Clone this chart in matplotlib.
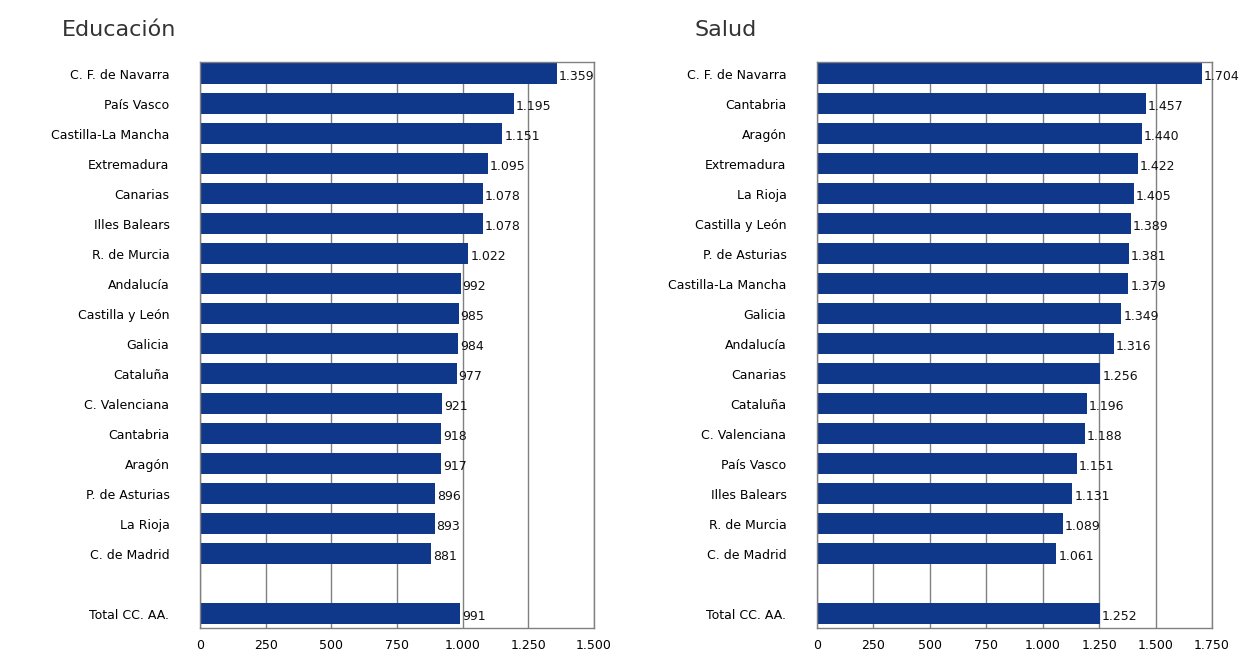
"""
Gasto por habitante: Educación y Salud por comunidad autónoma.
"""

import matplotlib
matplotlib.use("Agg")
import matplotlib.pyplot as plt
from matplotlib.ticker import FuncFormatter

# Educación
edu_regions = ["C. F. de Navarra", "País Vasco", "Castilla-La Mancha", "Extremadura",
               "Canarias", "Illes Balears", "R. de Murcia", "Andalucía",
               "Castilla y León", "Galicia", "Cataluña", "C. Valenciana",
               "Cantabria", "Aragón", "P. de Asturias", "La Rioja", "C. de Madrid",
               "Total CC. AA."]
edu_values = [1359, 1195, 1151, 1095, 1078, 1078, 1022, 992, 985, 984, 977,
              921, 918, 917, 896, 893, 881, 991]
edu_ticks = [0, 250, 500, 750, 1000, 1250, 1500]

# Salud
sal_regions = ["C. F. de Navarra", "Cantabria", "Aragón", "Extremadura", "La Rioja",
               "Castilla y León", "P. de Asturias", "Castilla-La Mancha", "Galicia",
               "Andalucía", "Canarias", "Cataluña", "C. Valenciana", "País Vasco",
               "Illes Balears", "R. de Murcia", "C. de Madrid", "Total CC. AA."]
sal_values = [1704, 1457, 1440, 1422, 1405, 1389, 1381, 1379, 1349, 1316, 1256,
              1196, 1188, 1151, 1131, 1089, 1061, 1252]
sal_ticks = [0, 250, 500, 750, 1000, 1250, 1500, 1750]

BAR = "#10388a"
GRID = "#808080"


def miles(v):
    return f"{int(v):,}".replace(",", ".")


def panel(ax, regions, values, ticks, title, title_x):
    # leave a blank row before the total
    pos = list(range(len(regions) - 1)) + [len(regions)]
    ax.barh(pos, values, height=0.7, color=BAR, zorder=2)
    for p, v in zip(pos, values):
        ax.text(v + ticks[-1] * 0.005, p + 0.08, miles(v), ha="left", va="center",
                fontsize=9, color="#111111", zorder=3)
    ax.set_yticks(pos)
    ax.set_yticklabels(regions, fontsize=9)
    ax.set_ylim(len(regions) + 0.47, -0.4)
    ax.set_xlim(0, ticks[-1])
    ax.set_xticks(ticks)
    ax.xaxis.set_major_formatter(FuncFormatter(lambda v, _: miles(v)))
    ax.tick_params(axis="y", length=0, pad=22)
    ax.tick_params(axis="x", length=0, pad=8, labelsize=9)
    ax.grid(axis="x", color=GRID, linewidth=1, zorder=1)
    ax.set_axisbelow(True)
    for s in ax.spines.values():
        s.set_color(GRID)
        s.set_linewidth(1)
    fig.text(title_x, 1 - 30 / 657, title, ha="left", va="center",
             fontsize=16, color="#333333")


fig = plt.figure(figsize=(12.51, 6.57), dpi=100)
ax1 = fig.add_axes([200 / 1251, 29 / 657, 394 / 1251, 566 / 657])
ax2 = fig.add_axes([817 / 1251, 29 / 657, 395 / 1251, 566 / 657])

panel(ax1, edu_regions, edu_values, edu_ticks, "Educación", 62 / 1251)
panel(ax2, sal_regions, sal_values, sal_ticks, "Salud", 695 / 1251)

plt.savefig("out.png", dpi=100)
